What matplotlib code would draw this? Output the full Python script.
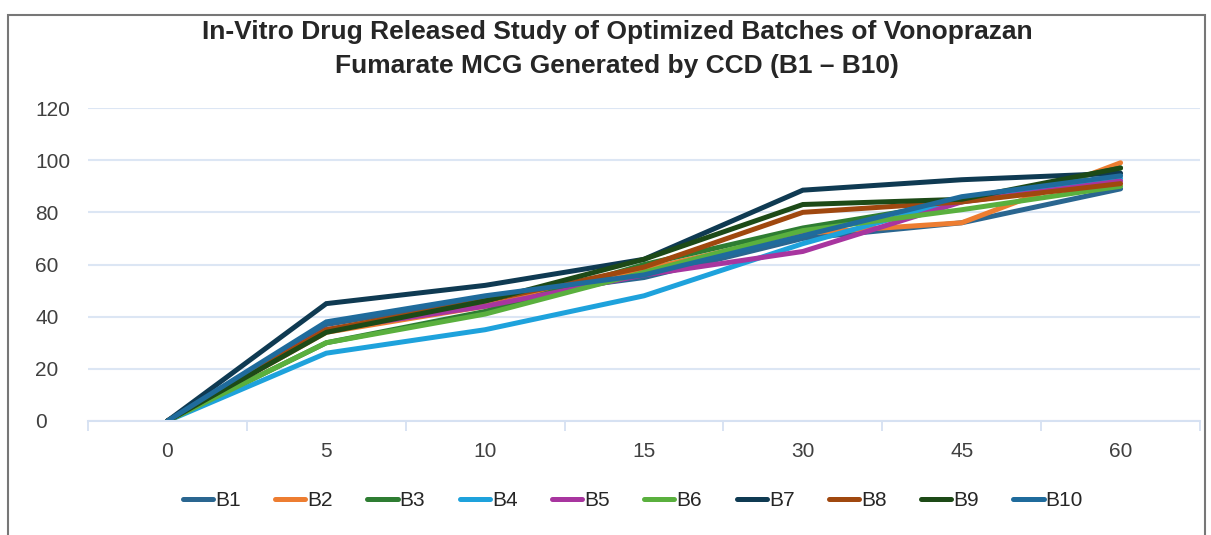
import matplotlib

matplotlib.use("Agg")
import matplotlib.pyplot as plt  # noqa: E402
from matplotlib.patches import Rectangle  # noqa: E402

plt.rcParams["font.family"] = ["Liberation Sans", "DejaVu Sans"]

# time points (min) and cumulative % drug released
time_labels = ["0", "5", "10", "15", "30", "45", "60"]
series_names = ["B1", "B2", "B3", "B4", "B5", "B6", "B7", "B8", "B9", "B10"]
b1 = [0, 37, 47, 55, 70, 76, 89]
b2 = [0, 34, 44, 58, 72, 76, 99]
b3 = [0, 30, 42, 60, 74, 84, 97]
b4 = [0, 26, 35, 48, 68, 85, 93]
b5 = [0, 35, 44, 56, 65, 84, 92]
b6 = [0, 30, 41, 57, 73, 81, 90]
b7 = [0, 45, 52, 62, 88.5, 92.5, 95]
b8 = [0, 35, 46, 59, 80, 84, 91]
b9 = [0, 34, 46, 62, 83, 85, 97]
b10 = [0, 38, 48, 56, 71, 86, 94]
series_values = [b1, b2, b3, b4, b5, b6, b7, b8, b9, b10]
colors = ["#2a6690", "#ed7d31", "#2e7d32", "#1ea2dc", "#a8359f",
          "#5ab03e", "#0f3a52", "#a0480f", "#1d4a17", "#1f6b9c"]

W, H = 1211, 535
fig = plt.figure(figsize=(W / 100, H / 100), dpi=100)
fig.patch.set_facecolor("white")

# chart frame
fig.patches.append(Rectangle((8 / W, -0.05), (1205 - 8) / W, 1.05 - 15 / H,
                             transform=fig.transFigure, fill=False,
                             edgecolor="#777777", linewidth=1.5))

ax = fig.add_axes([88 / W, 1 - 421 / H, (1200 - 88) / W, (421 - 108) / H])
x = list(range(len(time_labels)))
for name, vals, c in zip(series_names, series_values, colors):
    ax.plot(x, vals, color=c, linewidth=3.6, label=name,
            solid_joinstyle="miter", solid_capstyle="round")

ax.set_xlim(-0.5, len(time_labels) - 0.5)
ax.set_ylim(0, 120)
ax.set_yticks(range(0, 121, 20))
ax.set_xticks(x)
ax.set_xticklabels(time_labels)
ax.set_xticks([i - 0.5 for i in range(len(time_labels) + 1)], minor=True)
ax.tick_params(axis="x", which="major", length=0, pad=15, labelsize=15,
               labelcolor="#404040")
ax.tick_params(axis="x", which="minor", length=7, width=1.3, color="#d6e1f2")
ax.tick_params(axis="y", length=0, pad=38, labelsize=15, labelcolor="#404040")
for lbl in ax.get_yticklabels():
    lbl.set_horizontalalignment("left")

ax.grid(axis="y", color="#dce6f4", linewidth=1.5)
ax.set_axisbelow(True)
for side in ["top", "right", "left"]:
    ax.spines[side].set_visible(False)
ax.spines["bottom"].set_color("#d6e1f2")
ax.spines["bottom"].set_linewidth(1.5)

fig.text(617 / W, 1 - 32 / H,
         "In-Vitro Drug Released Study of Optimized Batches of Vonoprazan",
         ha="center", va="center", fontsize=19, fontweight="bold", color="#262626")
fig.text(617 / W, 1 - 66 / H, "Fumarate MCG Generated by CCD (B1 \u2013 B10)",
         ha="center", va="center", fontsize=19, fontweight="bold", color="#262626")

fig.legend(loc="center", bbox_to_anchor=(633 / W, 1 - 501 / H), ncol=10,
           frameon=False, fontsize=15, handlelength=1.45, handletextpad=0.1,
           columnspacing=1.65, labelcolor="#262626")

fig.savefig("out.png", dpi=100, facecolor="white")
